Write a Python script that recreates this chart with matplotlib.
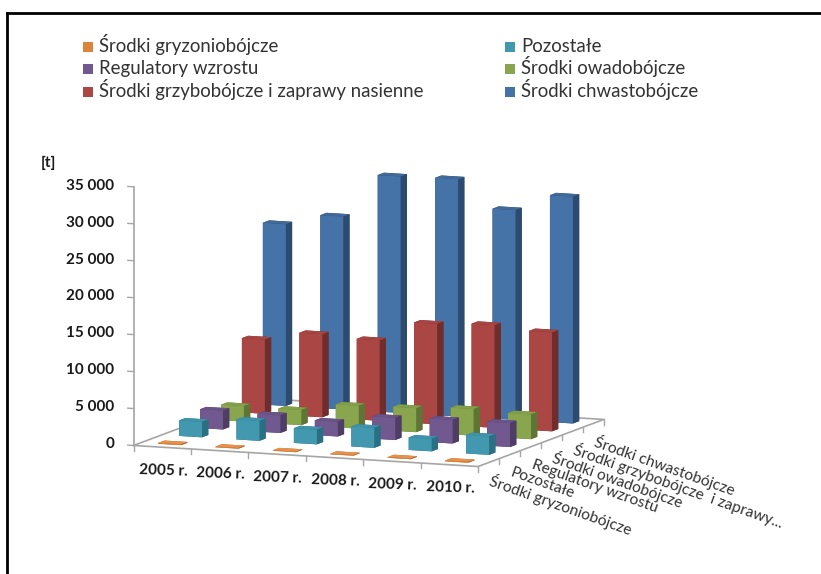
import matplotlib
matplotlib.use('Agg')
import matplotlib.pyplot as plt
from matplotlib.lines import Line2D
from matplotlib.patches import Rectangle
from mpl_toolkits.mplot3d import proj3d

plt.rcParams['font.family'] = ['Lato', 'DejaVu Sans']

years = ['2005 r.', '2006 r.', '2007 r.', '2008 r.', '2009 r.', '2010 r.']
value_ticks = [0, 5000, 10000, 15000, 20000, 25000, 30000, 35000]
value_labels = ['0', '5 000', '10 000', '15 000', '20 000', '25 000', '30 000', '35 000']

# front to back
gryzonio = [120, 100, 80, 90, 100, 110]
pozostale = [2100, 2700, 2000, 2700, 1700, 2500]
regulatory = [2550, 2400, 2000, 3000, 3200, 3250]
owado = [2100, 2050, 3100, 3250, 3600, 3350]
grzybo = [10050, 11250, 10900, 13600, 13900, 13400]
chwasto = [24600, 26100, 32000, 32100, 28400, 30700]

series = [gryzonio, pozostale, regulatory, owado, grzybo, chwasto]
series_names = ['Środki gryzoniobójcze', 'Pozostałe', 'Regulatory wzrostu',
                'Środki owadobójcze', 'Środki grzybobójcze i zaprawy nasienne',
                'Środki chwastobójcze']
depth_labels = ['Środki gryzoniobójcze', 'Pozostałe', 'Regulatory wzrostu',
                'Środki owadobójcze', 'Środki grzybobójcze  i zaprawy...',
                'Środki chwastobójcze']
front = ['#DB843D', '#4198AF', '#71588F', '#89A54E', '#AA4643', '#4572A7']
top = ['#E8914A', '#3F93AA', '#6A5386', '#82A04A', '#A84442', '#41699A']
side = ['#B0682E', '#2A6F82', '#4F3D66', '#5F7535', '#6F2E2C', '#2D4B6F']

fig = plt.figure(figsize=(8.21, 5.74), dpi=100)
ax = fig.add_axes([0.106, -0.019, 0.668, 0.956], projection='3d')
ax.set_proj_type('ortho')
ax.view_init(elev=8.7, azim=-68)
ax.set_box_aspect((372, 336, 262), zoom=1.0)
ax.computed_zorder = False
ax.set_axis_off()

bar_w = 0.40
bar_d = 0.30
nx = len(years)
ny = len(series)

ax.set_xlim(0, nx, view_margin=0)
ax.set_ylim(0, ny, view_margin=0)
ax.set_zlim(0, 35000, view_margin=0)


def label3d(x, y, z, s, **kw):
    # Text3D ignores rotation, so project the point and put plain 2D text there
    x2, y2, _ = proj3d.proj_transform(x, y, z, ax.get_proj())
    ax.text2D(x2, y2, s, transform=ax.transData, zorder=100, **kw)


# floor outline
line_c = '#A6A6A6'
ax.plot([0, nx, nx, 0, 0], [0, 0, ny, ny, 0], [0, 0, 0, 0, 0], color=line_c, lw=1.2, zorder=1)
ax.plot([0, 0], [0, 0], [0, 35000], color=line_c, lw=1.2, zorder=1)
for i in range(nx + 1):
    ax.plot([i, i], [0, 0], [0, -700], color=line_c, lw=1, zorder=1)
for j in range(1, ny + 1):
    ax.plot([nx, nx], [j, j], [0, -700], color=line_c, lw=1, zorder=1)
for v, lab in zip(value_ticks, value_labels):
    ax.plot([0, -0.1], [0, 0], [v, v], color=line_c, lw=1, zorder=1)
    label3d(-0.33, 0, v, lab, ha='right', va='center', fontsize=11, fontweight='bold', color='#1a1a1a')
label3d(-1.62, 0, 37400, '[t]', ha='left', va='center', fontsize=11, fontweight='bold', color='#1a1a1a')

# bars, back row first so the front ones cover them
z = 10
for j in range(ny - 1, -1, -1):
    for i in range(nx):
        ax.bar3d(i + 0.5 - bar_w / 2, j + 0.5 - bar_d / 2, 0, bar_w, bar_d, series[j][i],
                 color=[side[j], top[j], front[j], side[j], side[j], side[j]],
                 shade=False, zorder=z)
        z += 1

for i, y_lab in enumerate(years):
    label3d(i + 0.55, -0.1, -3000, y_lab, ha='center', va='center', rotation=-2,
            fontsize=11, fontweight='bold', color='#1a1a1a')
for j, d_lab in enumerate(depth_labels):
    label3d(nx + 0.03, j + 0.5, -2400, d_lab, ha='left', va='center', rotation=-19.5,
            rotation_mode='anchor', fontsize=11.2, color='#333333')

# legend laid out by hand: two columns, three rows
for k in range(len(series_names)):
    col_x = 83 if k % 2 == 0 else 505
    row_y = [47, 69, 92][k // 2]
    fig.add_artist(Rectangle((col_x / 821, 1 - (row_y + 5) / 574), 10 / 821, 10 / 574,
                             transform=fig.transFigure, color=front[k], lw=0))
    fig.text((col_x + 16) / 821, 1 - (row_y + 5) / 574, series_names[k], ha='left', va='baseline',
             fontsize=13.4, color='#333333')

# frame of the scanned page
fig.add_artist(Line2D([7 / 821, 7 / 821], [0, 1 - 13 / 574], color='black', lw=2))
fig.add_artist(Line2D([7 / 821, 1], [1 - 13 / 574, 1 - 13 / 574], color='black', lw=2))

fig.savefig('out.png', dpi=100)
